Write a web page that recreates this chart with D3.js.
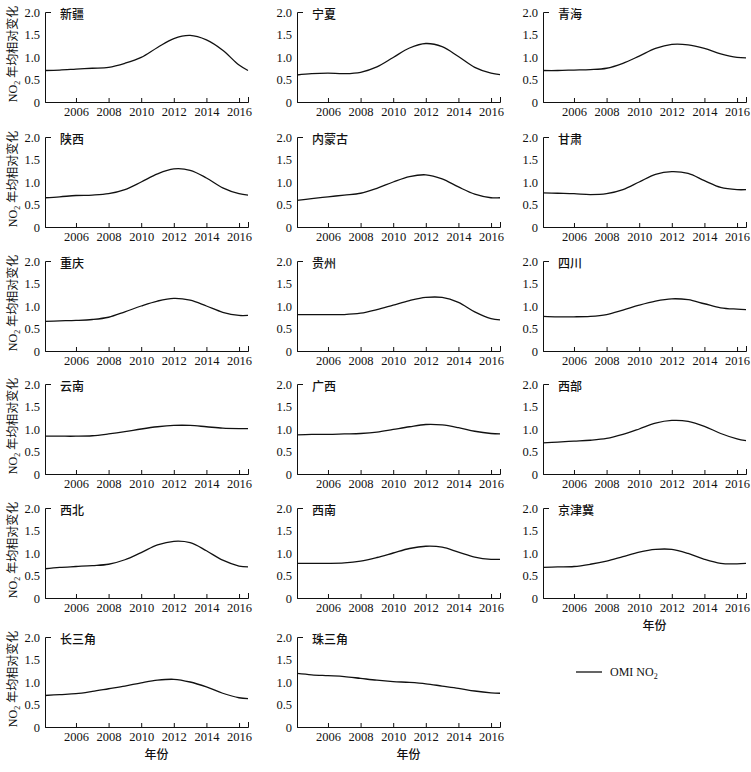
<!DOCTYPE html>
<html>
<head>
<meta charset="utf-8">
<script src="https://cdn.jsdelivr.net/npm/d3@7"></script>
<style>
  html, body { margin: 0; padding: 0; background: #fff; }
  svg { display: block; }
  .cjk { font-family: "Noto Sans CJK SC", sans-serif; fill: #111; }
  .serif { font-family: "Liberation Serif", "Times New Roman", serif; }
</style>
</head>
<body>
<svg id="chart" width="751" height="772"></svg>
<script>
// ---- data ----
const years = [2004.1, 2005, 2006, 2007, 2008, 2009, 2010, 2011, 2012, 2013, 2014, 2015, 2016, 2016.55];
const regions = ["新疆", "宁夏", "青海", "陕西", "内蒙古", "甘肃", "重庆", "贵州", "四川",
                 "云南", "广西", "西部", "西北", "西南", "京津冀", "长三角", "珠三角"];
const xinjiang   = [0.70, 0.71, 0.73, 0.75, 0.77, 0.86, 0.99, 1.21, 1.41, 1.48, 1.38, 1.15, 0.82, 0.70];
const ningxia    = [0.60, 0.63, 0.64, 0.63, 0.66, 0.78, 0.99, 1.20, 1.30, 1.23, 1.01, 0.77, 0.64, 0.61];
const qinghai    = [0.70, 0.70, 0.71, 0.72, 0.75, 0.86, 1.02, 1.19, 1.28, 1.27, 1.19, 1.07, 0.99, 0.98];
const shaanxi    = [0.65, 0.67, 0.70, 0.71, 0.74, 0.83, 1.00, 1.18, 1.29, 1.26, 1.09, 0.87, 0.74, 0.71];
const neimenggu  = [0.59, 0.63, 0.67, 0.71, 0.75, 0.86, 1.00, 1.12, 1.16, 1.07, 0.89, 0.73, 0.65, 0.65];
const gansu      = [0.76, 0.75, 0.74, 0.72, 0.74, 0.83, 1.00, 1.17, 1.23, 1.19, 1.03, 0.88, 0.83, 0.83];
const chongqing  = [0.66, 0.67, 0.68, 0.70, 0.75, 0.87, 1.00, 1.11, 1.17, 1.13, 1.00, 0.86, 0.79, 0.79];
const guizhou    = [0.81, 0.81, 0.81, 0.81, 0.84, 0.92, 1.02, 1.12, 1.19, 1.19, 1.08, 0.87, 0.72, 0.69];
const sichuan    = [0.77, 0.76, 0.76, 0.77, 0.81, 0.91, 1.02, 1.11, 1.16, 1.14, 1.05, 0.96, 0.93, 0.92];
const yunnan     = [0.84, 0.84, 0.84, 0.85, 0.89, 0.94, 1.00, 1.05, 1.08, 1.08, 1.05, 1.02, 1.01, 1.01];
const guangxi    = [0.87, 0.88, 0.88, 0.89, 0.90, 0.93, 0.99, 1.05, 1.10, 1.09, 1.03, 0.95, 0.90, 0.89];
const xibu       = [0.69, 0.71, 0.73, 0.75, 0.79, 0.88, 1.00, 1.13, 1.19, 1.17, 1.06, 0.90, 0.78, 0.74];
const xibei      = [0.65, 0.68, 0.70, 0.72, 0.75, 0.85, 1.01, 1.18, 1.26, 1.23, 1.05, 0.84, 0.71, 0.69];
const xinan      = [0.77, 0.77, 0.77, 0.78, 0.82, 0.90, 1.00, 1.10, 1.15, 1.13, 1.02, 0.91, 0.86, 0.86];
const jingjinji  = [0.68, 0.69, 0.70, 0.75, 0.82, 0.92, 1.02, 1.08, 1.08, 0.99, 0.86, 0.77, 0.76, 0.77];
const changsanjiao = [0.70, 0.72, 0.74, 0.79, 0.85, 0.91, 0.98, 1.04, 1.06, 1.00, 0.89, 0.75, 0.65, 0.63];
const zhusanjiao = [1.19, 1.16, 1.14, 1.12, 1.08, 1.04, 1.01, 0.99, 0.96, 0.91, 0.86, 0.80, 0.76, 0.75];
const seriesValues = [xinjiang, ningxia, qinghai, shaanxi, neimenggu, gansu, chongqing, guizhou, sichuan,
                      yunnan, guangxi, xibu, xibei, xinan, jingjinji, changsanjiao, zhusanjiao];
const xTicks = [2006, 2008, 2010, 2012, 2014, 2016];
const yTicks = [0, 0.5, 1.0, 1.5, 2.0];
const xDomain = [2004.1, 2016.55];
const yDomain = [0, 2];
const yTitle = "年均相对变化";
const xTitle = "年份";
const legendLabel = "OMI NO";

// ---- layout ----
const svg = d3.select("#chart");
const colX = [45, 297, 543];
const rowY = [12, 137, 261, 384, 508, 637];
const pw = 203, ph = 90;

const x = d3.scaleLinear().domain(xDomain).range([0, pw]);
const y = d3.scaleLinear().domain(yDomain).range([ph, 0]);
const line = d3.line().x((d, i) => x(years[i])).y(d => y(d)).curve(d3.curveCatmullRom.alpha(0.5));

regions.forEach((name, idx) => {
  const r = Math.floor(idx / 3), c = idx % 3;
  const g = svg.append("g").attr("transform", `translate(${colX[c]},${rowY[r]})`);

  const xa = g.append("g").attr("transform", `translate(0,${ph})`)
    .call(d3.axisBottom(x).tickValues(xTicks).tickFormat(d3.format("d"))
      .tickSizeInner(-4).tickSizeOuter(-5).tickPadding(5));
  const ya = g.append("g")
    .call(d3.axisLeft(y).tickValues(yTicks).tickFormat(d => d === 0 ? "0" : d.toFixed(1))
      .tickSizeInner(0).tickSizeOuter(-6).tickPadding(5));
  [xa, ya].forEach(a => {
    a.attr("font-family", null).attr("font-size", null);
    a.select(".domain").attr("stroke", "#111").attr("stroke-width", 1);
    a.selectAll(".tick line").attr("stroke", "#111");
    a.selectAll(".tick text").attr("class", "serif").attr("fill", "#111")
      .style("font-size", "12.5px");
  });

  g.append("path").datum(seriesValues[idx])
    .attr("d", line).attr("fill", "none").attr("stroke", "#111").attr("stroke-width", 1.3);

  g.append("text").attr("class", "cjk").attr("x", 15).attr("y", 6.5)
    .attr("font-size", 12).attr("font-weight", 500).text(name);

  if (c === 0) {
    const t = svg.append("text")
      .attr("transform", `translate(${17},${rowY[r] + ph / 2 - 3}) rotate(-90)`)
      .attr("text-anchor", "middle")
      .attr("font-size", 12);
    t.append("tspan").attr("class", "serif").attr("fill", "#111").text("NO");
    t.append("tspan").attr("class", "serif").attr("fill", "#111")
      .attr("font-size", 8).attr("dy", 3).text("2");
    t.append("tspan").attr("class", "cjk").attr("dy", -3).attr("dx", 3).text(yTitle);
  }
});

// x titles
[[2, 4], [0, 5], [1, 5]].forEach(([c, r]) => {
  svg.append("text").attr("class", "cjk")
    .attr("x", colX[c] + pw / 2 + 10).attr("y", rowY[r] + ph + 32)
    .attr("text-anchor", "middle").attr("font-size", 12).attr("font-weight", 500).text(xTitle);
});

// legend
const lg = svg.append("g").attr("transform", `translate(576,672)`);
lg.append("line").attr("x1", 0).attr("x2", 26).attr("y1", 0).attr("y2", 0)
  .attr("stroke", "#111").attr("stroke-width", 1.3);
const lt = lg.append("text").attr("class", "serif").attr("x", 34).attr("y", 4)
  .attr("font-size", 12).attr("fill", "#111");
lt.append("tspan").text(legendLabel);
lt.append("tspan").attr("font-size", 8).attr("dy", 3).text("2");
</script>
</body>
</html>
